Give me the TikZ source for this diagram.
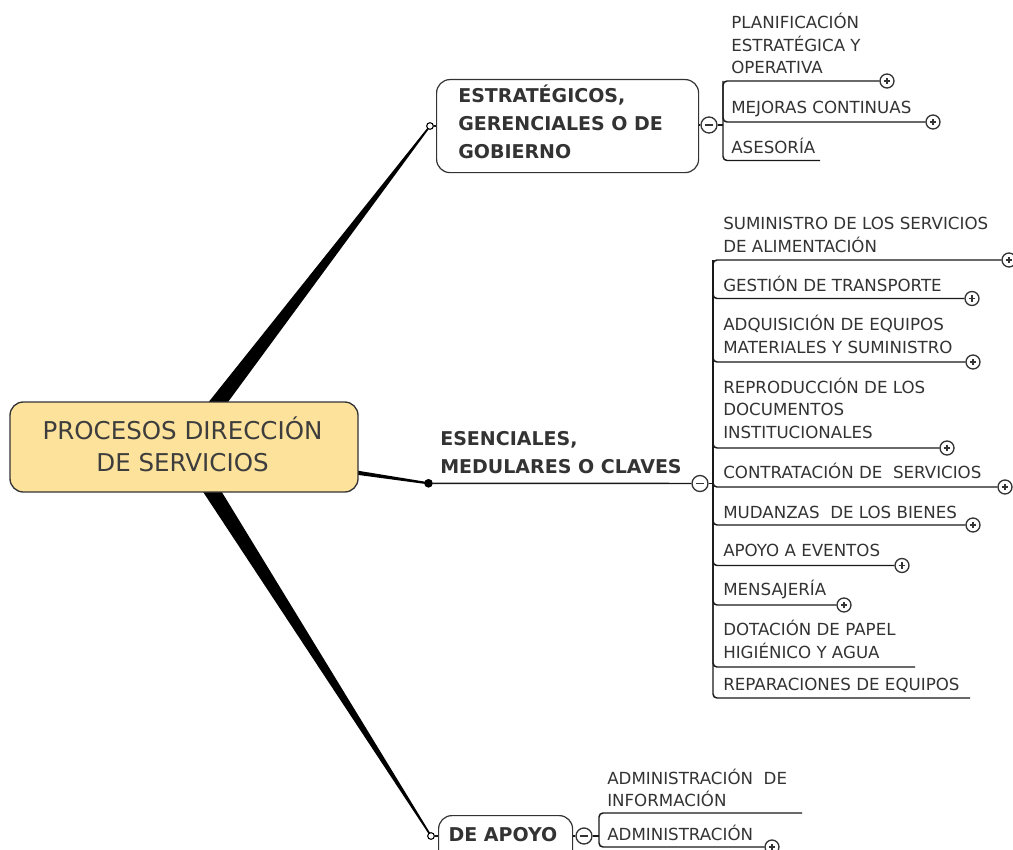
\documentclass[tikz,border=0pt]{standalone}
\usepackage{fontspec}
\setmainfont{DejaVu Sans}
\usetikzlibrary{calc}
\pgfdeclarelayer{bg}
\pgfsetlayers{bg,main}
\definecolor{txt}{HTML}{333333}
\definecolor{rootfill}{HTML}{FCE29B}
\definecolor{edgec}{HTML}{333333}
\newcommand\mytaper[4]{%
  \fill[black] ($(#1)!#3!90:(#2)$) -- ($(#2)!#4!-90:(#1)$) -- ($(#2)!#4!90:(#1)$) -- ($(#1)!#3!-90:(#2)$) -- cycle;}
\begin{document}
\begin{tikzpicture}[x=0.75pt,y=-0.75pt,
  rootbox/.style={draw=edgec, fill=rootfill, rounded corners=10pt, line width=1pt, minimum width=261pt, minimum height=67.5pt, inner sep=0pt},
  roottext/.style={font=\fontsize{18.4pt}{24pt}\selectfont, text=txt!95, inner sep=0pt, anchor=base, align=center},
  boxn/.style={draw=edgec, fill=white, rounded corners=10pt, line width=0.9pt, inner sep=0pt, anchor=north west},
  bnode/.style={font=\bfseries\fontsize{14.25pt}{20.8pt}\selectfont, text=txt, inner sep=0pt, anchor=base west, align=left},
  cnode/.style={font=\fontsize{12.5pt}{16.9pt}\selectfont, text=txt, inner sep=0pt, anchor=base west, align=left},
  pm/.style={circle, draw=edgec, fill=white, line width=1pt, inner sep=0pt},
  plusnode/.style={pm, minimum size=10.5pt, path picture={
     \draw[line width=1pt] ([xshift=-2.5pt]path picture bounding box.center) -- ([xshift=2.5pt]path picture bounding box.center);
     \draw[line width=1pt] ([yshift=-2.5pt]path picture bounding box.center) -- ([yshift=2.5pt]path picture bounding box.center);}},
  minusnode/.style={pm, minimum size=12pt, path picture={
     \draw[line width=1pt] ([xshift=-3pt]path picture bounding box.center) -- ([xshift=3pt]path picture bounding box.center);}},
  ocirc/.style={circle, draw=black, fill=white, line width=0.8pt, minimum size=5pt, inner sep=0pt},
  dotn/.style={circle, fill=black, minimum size=6.5pt, inner sep=0pt},
  uline/.style={draw=black!90, line width=1.1pt, rounded corners=3pt},
]
\useasboundingbox (0,0) rectangle (1013,849);
\clip (0,0) rectangle (1013,849);

% ---------- root ----------
\node[rootbox] (root) at (184,447) {};
\node[roottext] (roott) at (182.5,471.7) {PROCESOS DIRECCIÓN\\DE SERVICIOS};

% ---------- top branch ----------
\node[ocirc] (oc1) at (430,126) {};
\node[boxn, minimum width=196.5pt, minimum height=69.75pt] (estr) at (436,79) {};
\node[bnode] (estrt) at (458,158.3) {ESTRATÉGICOS,\\GERENCIALES O DE\\GOBIERNO};
\node[minusnode] (tm) at (709,125) {};
\draw[uline] (oc1) -- (estr.west |- oc1);
\draw[uline] (estr.east |- tm) -- (tm);

\coordinate (tbt) at (723,81);
\node[cnode] (t1) at (731,74) {PLANIFICACIÓN\\ESTRATÉGICA Y\\OPERATIVA};
\node[plusnode] (tp1) at (887,81) {};
\node[cnode] (t2) at (731,113.3) {MEJORAS CONTINUAS};
\node[plusnode] (tp2) at (933,122) {};
\node[cnode] (t3) at (731,153.3) {ASESORÍA};
\coordinate (t3e) at (820,160.5);
\draw[uline] (tp1) -- (tbt) |- (t3e);
\draw[uline] (tbt) |- (tp2);
\draw[uline] (tm) -- (tm -| tbt);

% ---------- middle branch ----------
\node[dotn] (dot) at (428.5,483.3) {};
\node[bnode] (esen) at (440,473.3) {ESENCIALES,\\MEDULARES O CLAVES};
\node[minusnode] (mm) at (700,483.5) {};
\draw[uline] (dot) -- (mm);
\coordinate (mbt) at (713,260);
\draw[uline] (mm) -- (mm -| mbt);

\node[cnode] (c1) at (723,252) {SUMINISTRO DE LOS SERVICIOS\\DE ALIMENTACIÓN};
\node[plusnode] (c1p) at (1009,260) {};
\node[cnode] (c2) at (723,291.7) {GESTIÓN DE TRANSPORTE};
\node[plusnode] (c2p) at (972,298.5) {};
\node[cnode] (c3) at (723,353.3) {ADQUISICIÓN DE EQUIPOS\\MATERIALES Y SUMINISTRO};
\node[plusnode] (c3p) at (973,362) {};
\node[cnode] (c4) at (723,438.3) {REPRODUCCIÓN DE LOS\\DOCUMENTOS\\INSTITUCIONALES};
\node[plusnode] (c4p) at (947,448) {};
\node[cnode] (c5) at (723,478.3) {CONTRATACIÓN DE\ \ SERVICIOS};
\node[plusnode] (c5p) at (1005,487) {};
\node[cnode] (c6) at (723,518.3) {MUDANZAS\ \ DE LOS BIENES};
\node[plusnode] (c6p) at (973,525) {};
\node[cnode] (c7) at (723,556.7) {APOYO A EVENTOS};
\node[plusnode] (c7p) at (902,565.5) {};
\node[cnode] (c8) at (723,595) {MENSAJERÍA};
\node[plusnode] (c8p) at (844,605) {};
\node[cnode] (c9) at (723,658.3) {DOTACIÓN DE PAPEL\\HIGIÉNICO Y AGUA};
\coordinate (c9e) at (915,667);
\node[cnode] (c10) at (723,690.7) {REPARACIONES DE EQUIPOS};
\coordinate (c10e) at (970,698);

\draw[uline] (c1p) -- (mbt) |- (c10e);
\foreach \t in {c2p,c3p,c4p,c5p,c6p,c7p,c8p,c9e}{\draw[uline] (mbt) |- (\t);}

% ---------- bottom branch ----------
\node[ocirc] (oc2) at (431,836) {};
\node[boxn, minimum width=100.5pt, minimum height=52.5pt] (apoyo) at (438,815) {};
\node[bnode] (apoyot) at (448.3,841.7) {DE APOYO};
\node[minusnode] (bm) at (584,836) {};
\draw[uline] (oc2) -- (apoyo.west |- oc2);
\draw[uline] (apoyo.east |- bm) -- (bm);
\coordinate (bbt) at (599,813);
\draw[uline] (bm) -- (bm -| bbt);
\node[cnode] (a1) at (607,806.7) {ADMINISTRACIÓN\ \ DE\\INFORMACIÓN};
\coordinate (a1e) at (802,813);
\node[cnode] (a2) at (607,840) {ADMINISTRACIÓN};
\node[plusnode] (a2p) at (772,847) {};
\draw[uline] (a1e) -- (bbt) |- (a2p);

% ---------- tapered connectors ----------
\begin{pgfonlayer}{bg}
\mytaper{root.center}{oc1.center}{6.6pt}{0.6pt}
\mytaper{root.center}{oc2.center}{6.6pt}{0.6pt}
\mytaper{root.center}{dot.center}{3.4pt}{0.8pt}
\end{pgfonlayer}
\end{tikzpicture}
\end{document}
